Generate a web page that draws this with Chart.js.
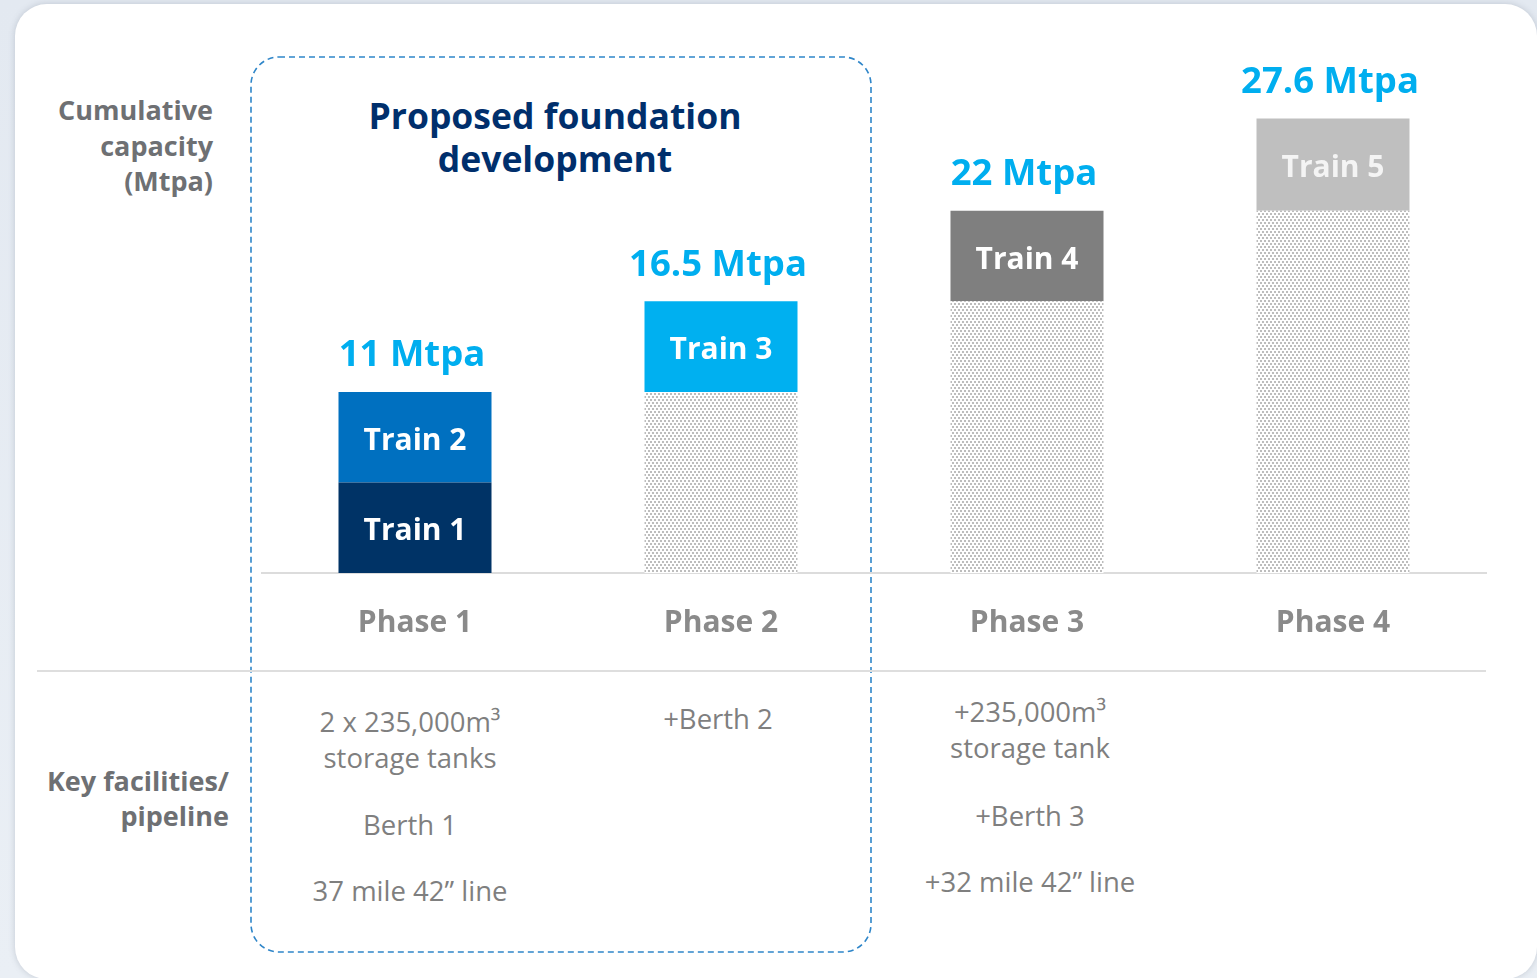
<!DOCTYPE html>
<html>
<head>
<meta charset="utf-8">
<script src="https://cdn.jsdelivr.net/npm/chart.js@4"></script>
<style>
    html, body { margin: 0; padding: 0; }
    body {
        width: 1537px; height: 978px; overflow: hidden; position: relative;
        background: linear-gradient(180deg, #e3e9f1 0%, #eaeff5 100%);
        font-family: "Open Sans", "Noto Sans", sans-serif;
    }
    .card {
        position: absolute; left: 15px; top: 4px; width: 1522px; height: 975px;
        background: #fff; border-radius: 32px;
        box-shadow: 0 0 6px rgba(80, 90, 110, 0.25);
    }
    .dashed-box { position: absolute; left: 249px; top: 55px; }
    .side-label {
        position: absolute; left: 0; text-align: right;
        font-weight: 700; font-size: 27px; color: #6e7073;
    }
    .title {
        position: absolute; left: 280px; width: 550px; top: 94px; text-align: center;
        font-weight: 700; font-size: 35.5px; line-height: 43px; color: #002f6c;
    }
    .sep {
        position: absolute; left: 37px; width: 1449px; top: 670px; height: 2px; background: #dedede;
    }
    .fac {
        position: absolute; width: 300px; text-align: center; white-space: nowrap;
        font-size: 27.5px; line-height: 36px; color: #7f7f7f;
    }
    #chartBox { position: absolute; left: 0; top: 0; width: 1537px; }
</style>
</head>
<body>
<div class="card"></div>
<svg class="dashed-box" width="626" height="901">
    <rect x="2" y="2" width="620" height="895" rx="28" ry="28" fill="none"
          stroke="#2f86c9" stroke-width="1.6" stroke-dasharray="6 4"/>
</svg>
<div class="sep"></div>

<div class="side-label" style="top:92px; width:213px; line-height:35.5px;">Cumulative<br>capacity<br>(Mtpa)</div>
<div class="side-label" style="top:763px; width:229px; line-height:35px;">Key facilities/<br>pipeline</div>
<div class="title">Proposed foundation<br>development</div>

<div id="facilities"></div>

<div id="chartBox"><canvas id="capacityChart"></canvas></div>

<script>
const phases = ['Phase 1', 'Phase 2', 'Phase 3', 'Phase 4'];
const existing = [null, 11, 16.5, 22];
const train1 = [5.5, null, null, null];
const train2 = [5.5, null, null, null];
const train3 = [null, 5.5, null, null];
const train4 = [null, null, 5.5, null];
const train5 = [null, null, null, 5.6];
const totals = [11, 16.5, 22, 27.6];
const totalLabels = ['11 Mtpa', '16.5 Mtpa', '22 Mtpa', '27.6 Mtpa'];

// facility notes under each phase: [text, centre y]
const facilities = [
    { x: 410, lines: [['2 x 235,000m³', 722], ['storage tanks', 758], ['Berth 1', 825], ['37 mile 42” line', 891]] },
    { x: 718, lines: [['+Berth 2', 719]] },
    { x: 1030, lines: [['+235,000m³', 712], ['storage tank', 748], ['+Berth 3', 816], ['+32 mile 42” line', 882]] }
];

const facBox = document.getElementById('facilities');
facilities.forEach(col => {
    col.lines.forEach(([text, y]) => {
        const d = document.createElement('div');
        d.className = 'fac';
        d.style.left = (col.x - 150) + 'px';
        d.style.top = (y - 18) + 'px';
        d.textContent = text;
        facBox.appendChild(d);
    });
});

const tickPad = 32;
const tickFont = 30;
document.getElementById('chartBox').style.height = (573 + tickPad * 2 + tickFont * 1.2) + 'px';

const ctx = document.getElementById('capacityChart').getContext('2d');

function dotPattern() {
    const c = document.createElement('canvas');
    c.width = 4; c.height = 6;
    const p = c.getContext('2d');
    p.fillStyle = '#ffffff';
    p.fillRect(0, 0, 4, 6);
    p.fillStyle = '#bdbdbd';
    p.fillRect(0, 0, 2, 2);
    p.fillRect(2, 3, 2, 2);
    return ctx.createPattern(c, 'repeat');
}

const barLabels = {
    id: 'barLabels',
    afterDatasetsDraw(chart) {
        const c = chart.ctx;
        c.save();
        c.textAlign = 'center';
        c.textBaseline = 'middle';
        chart.data.datasets.forEach((ds, i) => {
            if (!ds.inner) return;
            chart.getDatasetMeta(i).data.forEach((bar, j) => {
                if (ds.data[j] == null) return;
                c.fillStyle = ds.textColor;
                c.font = 'bold 30px "Open Sans", sans-serif';
                c.fillText(ds.label, bar.x, (bar.y + bar.base) / 2 + 4);
            });
        });
        const y = chart.scales.y;
        const x = chart.scales.x;
        c.fillStyle = '#00aeef';
        c.font = 'bold 36.5px "Open Sans", sans-serif';
        totals.forEach((v, j) => {
            c.fillText(totalLabels[j], x.getPixelForValue(j) - 3, y.getPixelForValue(v) - 36);
        });
        c.restore();
    }
};

new Chart(ctx, {
    type: 'bar',
    data: {
        labels: phases,
        datasets: [
            { label: 'Existing', data: existing, backgroundColor: dotPattern(), inner: false },
            { label: 'Train 1', data: train1, backgroundColor: '#003366', textColor: '#ffffff', inner: true },
            { label: 'Train 2', data: train2, backgroundColor: '#0070c0', textColor: '#ffffff', inner: true },
            { label: 'Train 3', data: train3, backgroundColor: '#00b0f0', textColor: '#ffffff', inner: true },
            { label: 'Train 4', data: train4, backgroundColor: '#7f7f7f', textColor: '#ffffff', inner: true },
            { label: 'Train 5', data: train5, backgroundColor: '#bfbfbf', textColor: '#f4f4f4', inner: true }
        ]
    },
    options: {
        responsive: true,
        maintainAspectRatio: false,
        animation: false,
        layout: { padding: { left: 262, right: 51, top: 0, bottom: 0 } },
        datasets: { bar: { barPercentage: 0.5, categoryPercentage: 1.0 } },
        scales: {
            x: {
                stacked: true,
                grid: { display: false, drawTicks: false },
                border: { color: '#dcdcdc', width: 2 },
                ticks: {
                    color: '#8a8a8a',
                    padding: tickPad,
                    font: { family: '"Open Sans", sans-serif', size: tickFont, weight: 'bold' }
                }
            },
            y: {
                stacked: true,
                display: false,
                min: 0,
                max: 34.8
            }
        },
        plugins: {
            legend: { display: false },
            tooltip: { enabled: false }
        }
    },
    plugins: [barLabels]
});
</script>
</body>
</html>
